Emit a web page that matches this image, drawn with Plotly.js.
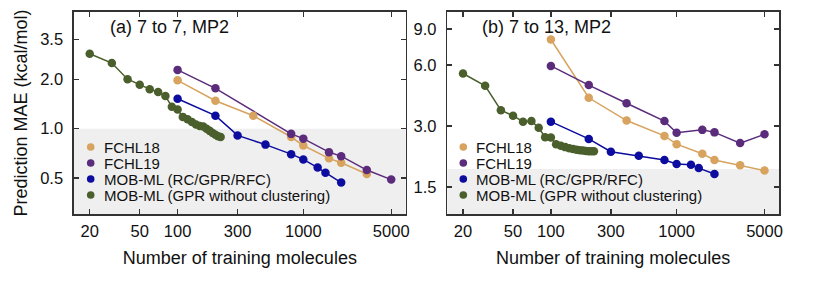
<!DOCTYPE html>
<html>
<head>
<meta charset="utf-8">
<script src="https://cdn.plot.ly/plotly-3.0.1.min.js"></script>
<style>html,body{margin:0;padding:0;background:#fff;}#chart{width:814px;height:285px;}</style>
</head>
<body>
<div id="chart"></div>
<script>
// ---- data ----
const seriesNames = ["FCHL18", "FCHL19", "MOB-ML (RC/GPR/RFC)", "MOB-ML (GPR without clustering)"];

// panel (a) 7 to 7, MP2
const a_fchl18_n = [100, 200, 400, 800, 1000, 1600, 2000, 3200];
const a_fchl18_mae = [1.97, 1.48, 1.20, 0.89, 0.79, 0.66, 0.62, 0.53];
const a_fchl19_n = [100, 200, 800, 1000, 1600, 2000, 3200, 5000];
const a_fchl19_mae = [2.28, 1.76, 0.93, 0.87, 0.72, 0.68, 0.56, 0.49];
const a_mob_n = [100, 200, 300, 500, 800, 1000, 1300, 1500, 2000];
const a_mob_mae = [1.52, 1.20, 0.91, 0.80, 0.70, 0.65, 0.58, 0.54, 0.47];
const a_gpr_n = [20, 30, 40, 50, 60, 70, 80, 90, 100, 110, 120, 130, 140, 150, 160, 170, 180, 190, 200, 210, 220];
const a_gpr_mae = [2.86, 2.51, 2.00, 1.85, 1.74, 1.67, 1.58, 1.36, 1.31, 1.18, 1.14, 1.10, 1.06, 1.04, 1.03, 1.00, 0.97, 0.94, 0.92, 0.90, 0.89];

// panel (b) 7 to 13, MP2
const b_fchl18_n = [100, 200, 400, 800, 1000, 1600, 2000, 3200, 5000];
const b_fchl18_mae = [8.0, 4.13, 3.19, 2.68, 2.44, 2.19, 2.04, 1.92, 1.81];
const b_fchl19_n = [100, 200, 400, 800, 1000, 1600, 2000, 3200, 5000];
const b_fchl19_mae = [5.93, 4.77, 3.88, 3.17, 2.78, 2.87, 2.79, 2.47, 2.73];
const b_mob_n = [100, 200, 300, 500, 800, 1000, 1300, 1500, 2000];
const b_mob_mae = [3.15, 2.59, 2.24, 2.14, 2.04, 1.95, 1.93, 1.86, 1.74];
const b_gpr_n = [20, 30, 40, 50, 60, 70, 80, 90, 100, 110, 120, 130, 140, 150, 160, 170, 180, 190, 200, 210, 220];
const b_gpr_mae = [5.44, 4.73, 3.59, 3.37, 3.15, 3.17, 2.94, 2.64, 2.63, 2.44, 2.40, 2.36, 2.33, 2.31, 2.29, 2.28, 2.27, 2.26, 2.25, 2.25, 2.25];

// ticks
const xTickVals = [20, 50, 100, 300, 1000, 5000];
const xTickText = ["20", "50", "100", "300", "1000", "5000"];
const aYTickVals = [0.5, 1.0, 2.0, 3.5];
const aYTickText = ["0.5", "1.0", "2.0", "3.5"];
const bYTickVals = [1.5, 3.0, 6.0, 9.0];
const bYTickText = ["1.5", "3.0", "6.0", "9.0"];

// shaded thresholds
const aShadeTop = 1.0;
const bShadeTop = 1.84;

// ---- styles ----
const colors = ["#D7A35E", "#5B2B7C", "#0C0C9E", "#4A5F2C"];
const FONT = "Liberation Sans, Arial, Helvetica, sans-serif";

function series(n, v, idx, xa, ya) {
  const line = {x: n, y: v, xaxis: xa, yaxis: ya, mode: "lines", showlegend: false,
    line: {color: colors[idx], width: 1.5}, hoverinfo: "skip"};
  const pts = {x: n, y: v, xaxis: xa, yaxis: ya, mode: "markers", name: seriesNames[idx], showlegend: false,
    marker: {color: colors[idx], size: 8.5, line: {width: 0}}};
  return [line, pts];
}

const panels = [
  ["x", "y", [[a_fchl18_n, a_fchl18_mae], [a_fchl19_n, a_fchl19_mae], [a_mob_n, a_mob_mae], [a_gpr_n, a_gpr_mae]]],
  ["x2", "y2", [[b_fchl18_n, b_fchl18_mae], [b_fchl19_n, b_fchl19_mae], [b_mob_n, b_mob_mae], [b_gpr_n, b_gpr_mae]]]
];
let lineTraces = [], markerTraces = [];
panels.forEach(([xa, ya, sets]) => {
  sets.forEach((s, i) => {
    const [l, m] = series(s[0], s[1], i, xa, ya);
    lineTraces.push(l); markerTraces.push(m);
  });
});
const data = lineTraces.concat(markerTraces);

const xRange = [Math.log10(15), Math.log10(6520)];
const axisCommon = {
  type: "log", showgrid: false, zeroline: false, showline: true, linecolor: "#333",
  linewidth: 1.6, mirror: "ticks", ticks: "inside", ticklen: 5, tickwidth: 1.4, tickcolor: "#333",
  tickfont: {family: FONT, size: 16.5, color: "#111"}
};
const xTitle = {text: "Number of training molecules", font: {family: FONT, size: 18, color: "#111"}, standoff: 12};

const shapes = [
  {type: "rect", xref: "x domain", yref: "y", x0: 0, x1: 1, y0: 0.01, y1: aShadeTop,
    fillcolor: "#EFEFEF", line: {width: 0}, layer: "below"},
  {type: "rect", xref: "x2 domain", yref: "y2", x0: 0, x1: 1, y0: 0.01, y1: bShadeTop,
    fillcolor: "#EFEFEF", line: {width: 0}, layer: "below"}
];

const annotations = [
  {text: "(a) 7 to 7, MP2", xref: "x domain", yref: "y domain", x: 0.1025, y: 0.926,
    xanchor: "left", yanchor: "middle", showarrow: false, font: {family: FONT, size: 18, color: "#111"}},
  {text: "(b) 7 to 13, MP2", xref: "x2 domain", yref: "y2 domain", x: 0.0986, y: 0.926,
    xanchor: "left", yanchor: "middle", showarrow: false, font: {family: FONT, size: 18, color: "#111"}}
];

// hand-built legends (one per panel)
const legendRowsPx = [147, 163, 179, 195];
const legendMarkerXPx = [90.7, 463.3];
legendMarkerXPx.forEach(mx => {
  seriesNames.forEach((nm, i) => {
    const py = 1 - legendRowsPx[i] / 285;
    shapes.push({type: "circle", xref: "paper", yref: "paper", xsizemode: "pixel", ysizemode: "pixel",
      xanchor: mx / 814, yanchor: py, x0: -3.8, x1: 3.8, y0: -3.8, y1: 3.8,
      fillcolor: colors[i], line: {width: 0}, layer: "above"});
    annotations.push({text: nm, xref: "paper", yref: "paper", x: (mx + 11) / 814, y: py,
      xanchor: "left", yanchor: "middle", showarrow: false,
      font: {family: FONT, size: 15, color: "#111"}});
  });
});

const layout = {
  width: 814, height: 285,
  margin: {l: 0, r: 0, t: 0, b: 0},
  paper_bgcolor: "#fff", plot_bgcolor: "#fff",
  showlegend: false,
  xaxis: Object.assign({}, axisCommon, {domain: [74 / 814, 405.7 / 814], range: xRange, anchor: "y",
    tickvals: xTickVals, ticktext: xTickText, ticklabelstandoff: 1, title: xTitle}),
  xaxis2: Object.assign({}, axisCommon, {domain: [447.3 / 814, 779 / 814], range: xRange, anchor: "y2",
    tickvals: xTickVals, ticktext: xTickText, ticklabelstandoff: 1, title: xTitle}),
  yaxis: Object.assign({}, axisCommon, {domain: [1 - 214.3 / 285, 1 - 11.7 / 285], range: [-0.521, 0.712], anchor: "x",
    tickvals: aYTickVals, ticktext: aYTickText, ticklabelstandoff: 6,
    title: {text: "Prediction MAE (kcal/mol)", font: {family: FONT, size: 18, color: "#111"}, standoff: 8}}),
  yaxis2: Object.assign({}, axisCommon, {domain: [1 - 214.3 / 285, 1 - 11.7 / 285], range: [0.042, 1.040], anchor: "x2",
    tickvals: bYTickVals, ticktext: bYTickText, ticklabelstandoff: 6}),
  shapes: shapes,
  annotations: annotations
};

Plotly.newPlot("chart", data, layout, {staticPlot: true, displayModeBar: false});
</script>
</body>
</html>
